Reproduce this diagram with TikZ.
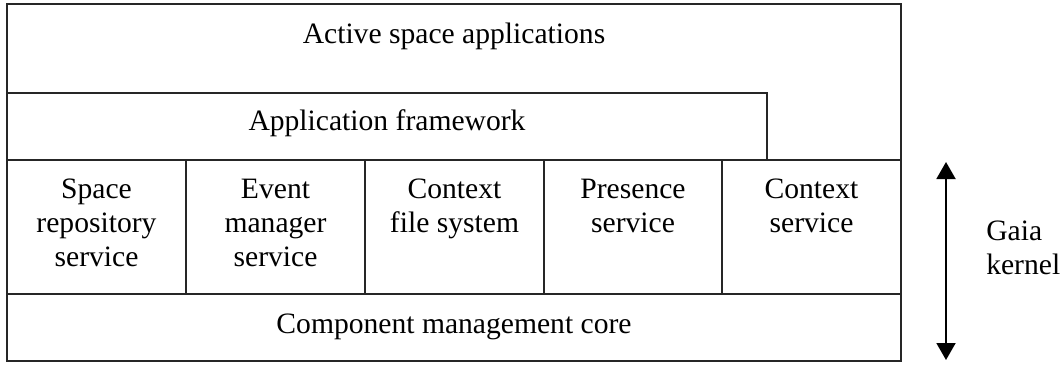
\documentclass[tikz,border=0pt]{standalone}
\usepackage{fontspec}
\setmainfont{Liberation Serif}
\usetikzlibrary{fit,arrows.meta}
\newcommand\linesof[1]{\begin{tabular}[t]{@{}c@{}}#1\end{tabular}}
\newcommand\linesleft[1]{\begin{tabular}[t]{@{}l@{}}#1\end{tabular}}
\begin{document}
\begin{tikzpicture}[x=0.75pt,y=-0.75pt,
  layer/.style={draw=black!85,line width=1.3pt,inner sep=0pt,fit={#1}},
  caption/.style={anchor=base,inner sep=0pt,font=\fontsize{22.2}{25.5}\selectfont},
  span/.style={-{Triangle[length=12.75pt,width=14.25pt]},line width=1.4pt}]
\useasboundingbox (0,0) rectangle (1063,364);

% stack of layers
\node[layer={(7,4) (901,361)}] (apps) {};
\node[layer={(7,93) (767,160)}] (framework) {};
\node[layer={(7,160) (186,294)}] (repo) {};
\node[layer={(186,160) (365,294)}] (events) {};
\node[layer={(365,160) (544,294)}] (cfs) {};
\node[layer={(544,160) (722,294)}] (presence) {};
\node[layer={(722,160) (901,294)}] (context) {};
\node[layer={(7,294) (901,361)}] (core) {};

% layer names
\node[caption] (t-apps) at (454,43) {Active space applications};
\node[caption] (t-framework) at (387,130) {Application framework};
\node[caption] (t-repo) at (96.5,198.5) {\linesof{Space\\repository\\service}};
\node[caption] (t-events) at (275.5,198.5) {\linesof{Event\\manager\\service}};
\node[caption] (t-cfs) at (454.5,198.5) {\linesof{Context\\file system}};
\node[caption] (t-presence) at (633,198.5) {\linesof{Presence\\service}};
\node[caption] (t-context) at (811.5,198.5) {\linesof{Context\\service}};
\node[caption] (t-core) at (454,333) {Component management core};

% extent of the kernel
\coordinate (kmid) at (946,260);
\coordinate (ktop) at (946,162);
\coordinate (kbot) at (946,360);
\draw[span] (kmid) -- (ktop);
\draw[span] (kmid) -- (kbot);
\node[caption,anchor=base west] (kernel) at (986,240) {\linesleft{Gaia\\kernel}};
\end{tikzpicture}
\end{document}
